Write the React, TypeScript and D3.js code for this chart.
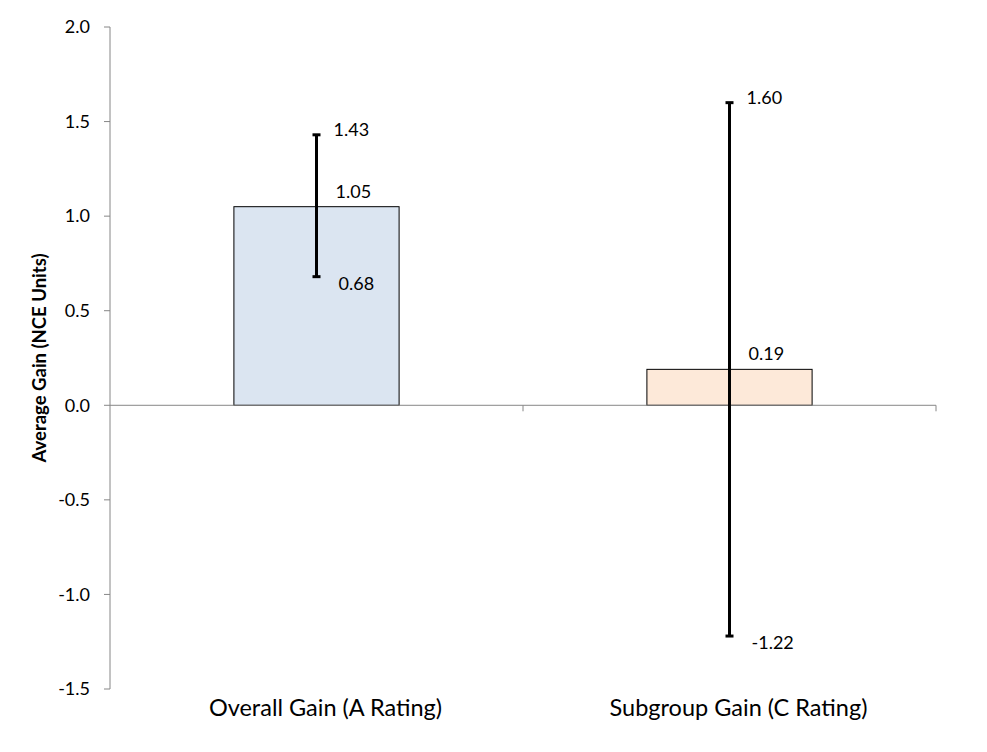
import React from "react";
import * as d3 from "d3";

const categories = ["Overall Gain (A Rating)", "Subgroup Gain (C Rating)"];
const values = [1.05, 0.19];
const lowers = [0.68, -1.22];
const uppers = [1.43, 1.6];
const fills = ["#DBE5F1", "#FDE9D9"];
const yTicks = [-1.5, -1.0, -0.5, 0.0, 0.5, 1.0, 1.5, 2.0];

const W = 987;
const H = 752;
const left = 110;
const right = 936;
const top = 27;
const bottom = 689;
const font = "Lato, 'Open Sans', sans-serif";
const axisColor = "#868686";

const fmt1 = (v: number) => d3.format(".1f")(v).replace("\u2212", "-");
const fmt2 = (v: number) => d3.format(".2f")(v).replace("\u2212", "-");

export default function App() {
  const y = d3.scaleLinear().domain([-1.5, 2.0]).range([bottom, top]);
  const x = d3.scaleBand<string>().domain(categories).range([left, right]).paddingInner(0.6).paddingOuter(0.3);
  const band = d3.scaleBand<string>().domain(categories).range([left, right]);
  const y0 = y(0);
  const bw = x.bandwidth();

  return (
    <svg width={W} height={H} style={{ position: "absolute", left: 0, top: 0, background: "#fff" }}>
      {/* y axis */}
      <line x1={left} x2={left} y1={top} y2={bottom} stroke={axisColor} strokeWidth={1} />
      {yTicks.map((t) => (
        <g key={t}>
          <line x1={left - 6} x2={left} y1={y(t)} y2={y(t)} stroke={axisColor} />
          <text x={left - 20} y={y(t)} dy="0.35em" textAnchor="end" fontFamily={font} fontSize={18} fill="#000">
            {fmt1(t)}
          </text>
        </g>
      ))}
      <text
        transform={`translate(46, ${(top + bottom) / 2}) rotate(-90)`}
        textAnchor="middle"
        fontFamily={font}
        fontWeight="bold"
        fontSize={18.5}
        fill="#000"
      >
        Average Gain (NCE Units)
      </text>

      {/* bars */}
      {categories.map((c, i) => {
        const bx = x(c)!;
        return (
          <rect
            key={c}
            x={bx}
            y={Math.min(y(values[i]), y0)}
            width={bw}
            height={Math.abs(y0 - y(values[i]))}
            fill={fills[i]}
            stroke="#000"
            strokeWidth={1}
          />
        );
      })}

      {/* x axis */}
      <line x1={left} x2={right} y1={y0} y2={y0} stroke={axisColor} />
      {categories.map((c) => (
        <line key={c} x1={band(c)! + band.bandwidth()} x2={band(c)! + band.bandwidth()} y1={y0} y2={y0 + 6} stroke={axisColor} />
      ))}

      {/* error bars and labels */}
      {categories.map((c, i) => {
        const cx = x(c)! + bw / 2;
        return (
          <g key={c + "e"}>
            <line x1={cx} x2={cx} y1={y(uppers[i])} y2={y(lowers[i])} stroke="#000" strokeWidth={3} />
            <line x1={cx - 4} x2={cx + 4} y1={y(uppers[i])} y2={y(uppers[i])} stroke="#000" strokeWidth={3} />
            <line x1={cx - 4} x2={cx + 4} y1={y(lowers[i])} y2={y(lowers[i])} stroke="#000" strokeWidth={3} />
            <text x={cx + 17} y={y(uppers[i]) + 1} fontFamily={font} fontSize={18} fill="#000">
              {fmt2(uppers[i])}
            </text>
            <text x={cx + 19} y={y(values[i]) - 9} fontFamily={font} fontSize={18} fill="#000">
              {fmt2(values[i])}
            </text>
            <text x={cx + 22} y={y(lowers[i]) + 13} fontFamily={font} fontSize={18} fill="#000">
              {fmt2(lowers[i])}
            </text>
            <text x={cx + 9} y={716} textAnchor="middle" fontFamily={font} fontSize={23.5} fill="#000">
              {c}
            </text>
          </g>
        );
      })}
    </svg>
  );
}
